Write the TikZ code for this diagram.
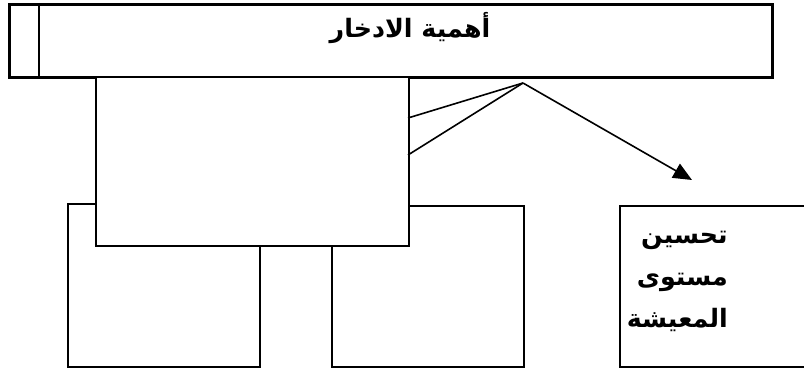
\documentclass[tikz,border=0pt]{standalone}
\usepackage{fontspec}
\usetikzlibrary{arrows.meta}
\TeXXeTstate=1
\newfontfamily\arabicfont[Script=Arabic]{DejaVu Sans}
\begin{document}
\begin{tikzpicture}[x=0.75pt,y=-0.75pt,
  frame/.style={draw=black, line width=1.4pt, fill=white, rectangle, inner sep=0pt, anchor=north west},
  thick frame/.style={frame, line width=2pt},
  link/.style={draw=black, line width=1.2pt},
  artxt/.style={font=\arabicfont\bfseries\fontsize{19}{31.5}\selectfont, inner sep=0pt}]
\useasboundingbox (0,0) rectangle (804,370);
\clip (0,0) rectangle (804,370);
\fill[white] (0,0) rectangle (804,370);
% lower boxes
\node[frame, minimum width=144pt, minimum height=122.25pt] (left) at (67,203) {};
\node[frame, minimum width=144pt, minimum height=120.75pt] (mid) at (331,205) {};
\node[frame, minimum width=150pt, minimum height=120.75pt] (right) at (619,205) {};
% top box
\node[thick frame, minimum width=572.25pt, minimum height=54.75pt] (top) at (8,3) {};
\draw[line width=2pt] ([xshift=23.25pt]top.north west) -- ([xshift=23.25pt]top.south west);
\node[artxt, anchor=center] (title) at (410,28) {\beginR أهمية الادخار\endR};
% big overlapping box
\node[frame, minimum width=234.75pt, minimum height=126.75pt] (big) at (95,76) {};
% connectors
\coordinate (v) at (523,83);
\coordinate (p1) at (408,118);
\coordinate (p2) at (408,155);
\coordinate (tip) at (692,180);
\draw[link] (p1) -- (v);
\draw[link] (p2) -- (v);
\draw[link, -{Triangle[length=14pt,width=12pt]}] (v) -- (tip);
% right text
\node[artxt, align=right, anchor=north east] (rtxt) at (728,231) {\beginR تحسين\endR\\ \beginR مستوى\endR\\ \beginR المعيشة\endR};
\end{tikzpicture}
\end{document}
